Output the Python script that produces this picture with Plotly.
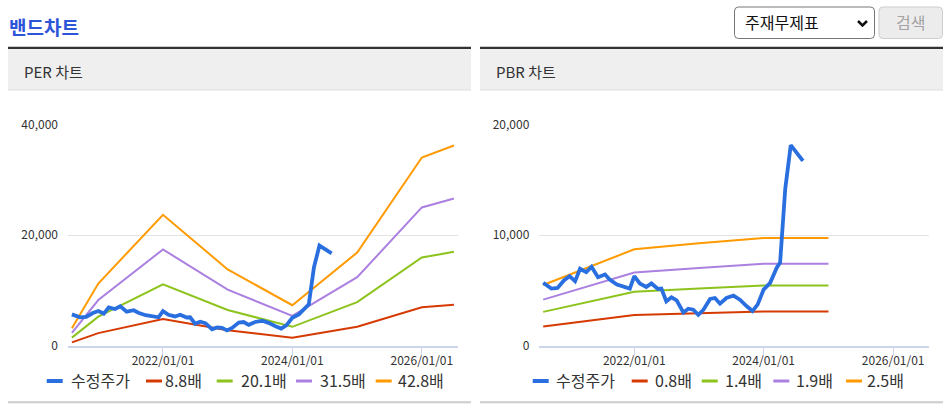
import plotly.graph_objects as go

W, H = 949, 411
FONT = "Noto Sans CJK KR"

# ---------------- data ----------------
price_dates = ["2020-08-05", "2020-09-20", "2020-10-25", "2020-12-01", "2021-01-01", "2021-02-01",
               "2021-03-01", "2021-04-05", "2021-05-05", "2021-06-10", "2021-07-20", "2021-08-15",
               "2021-09-25", "2021-11-01", "2021-12-07", "2022-01-01", "2022-02-01", "2022-03-10",
               "2022-04-08", "2022-05-15", "2022-06-03", "2022-07-01", "2022-07-30", "2022-08-28",
               "2022-10-05", "2022-11-02", "2022-11-30", "2022-12-28", "2023-01-26", "2023-03-05",
               "2023-04-01", "2023-04-30", "2023-06-05", "2023-07-15", "2023-08-20", "2023-09-28",
               "2023-10-30", "2023-11-28", "2024-01-01", "2024-02-07", "2024-03-15", "2024-04-03",
               "2024-05-02", "2024-06-02", "2024-08-10"]
price = [5700, 5180, 5240, 5940, 6300, 5850,
         6970, 6670, 7150, 6200, 6450, 6000,
         5550, 5390, 5180, 6300, 5640, 5330,
         5640, 5150, 5180, 4030, 4390, 4120,
         3030, 3360, 3270, 2820, 3270, 4240,
         4330, 3820, 4330, 4550, 4180, 3580,
         3150, 3730, 5090, 5700, 7060, 7520,
         14180, 18120, 16700]

per_dates = ["2020-08-05", "2021-01-01", "2022-01-01", "2023-01-01", "2024-01-01",
             "2025-01-01", "2026-01-01", "2026-07-01"]
per_names = ["8.8배", "20.1배", "31.5배", "42.8배"]
per_88 = [660, 2320, 4870, 2840, 1510, 3470, 6990, 7440]
per_201 = [1510, 5290, 11120, 6490, 3460, 7920, 15960, 16990]
per_315 = [2360, 8290, 17420, 10180, 5420, 12410, 25000, 26620]
per_428 = [3210, 11270, 23670, 13820, 7360, 16860, 34000, 36170]

pbr_dates = ["2020-08-05", "2022-01-01", "2023-01-01", "2024-01-01", "2025-01-01"]
pbr_names = ["0.8배", "1.4배", "1.9배", "2.5배"]
pbr_08 = [1760, 2790, 2960, 3120, 3120]
pbr_14 = [3080, 4890, 5180, 5460, 5460]
pbr_19 = [4180, 6630, 7030, 7410, 7410]
pbr_25 = [5500, 8725, 9270, 9750, 9750]

per_ticks = [0, 20000, 40000]
pbr_ticks = [0, 10000, 20000]
x_ticks = ["2022-01-01", "2024-01-01", "2026-01-01"]
x_range = ["2020-07-14", "2026-07-24"]

price_name = "수정주가"
price_color = "#2a6fdf"
band_colors = ["#d63a03", "#8cc31c", "#ab80e0", "#ff9a00"]


def px(x):
    return x / W


def py(y):
    return 1 - y / H


fig = go.Figure()

# PER chart
for name, vals, col in zip(per_names, [per_88, per_201, per_315, per_428], band_colors):
    fig.add_trace(go.Scatter(x=per_dates, y=vals, mode="lines", name=name,
                             line=dict(color=col, width=2), xaxis="x", yaxis="y",
                             showlegend=False))
fig.add_trace(go.Scatter(x=price_dates, y=price, mode="lines", name=price_name,
                         line=dict(color=price_color, width=3.8), xaxis="x", yaxis="y",
                         showlegend=False))
# PBR chart
for name, vals, col in zip(pbr_names, [pbr_08, pbr_14, pbr_19, pbr_25], band_colors):
    fig.add_trace(go.Scatter(x=pbr_dates, y=vals, mode="lines", name=name,
                             line=dict(color=col, width=2), xaxis="x2", yaxis="y2",
                             showlegend=False))
fig.add_trace(go.Scatter(x=price_dates, y=price, mode="lines", name=price_name,
                         line=dict(color=price_color, width=3.8), xaxis="x2", yaxis="y2",
                         showlegend=False))

ydom = [py(346), py(124.3)]
xaxis_common = dict(type="date", range=x_range, tickvals=x_ticks, tickformat="%Y/%m/%d",
                    ticks="outside", ticklen=7, tickcolor="#ccd6eb", tickwidth=1,
                    showline=True, linecolor="#ccd6eb", linewidth=2, showgrid=False,
                    zeroline=False, automargin=False, ticklabelstandoff=-4,
                    tickfont=dict(family=FONT, size=12, color="#333333"),
                    fixedrange=True)
yaxis_common = dict(showgrid=True, gridcolor="#e3e3e3", gridwidth=1.3, zeroline=False,
                    showline=False, tickformat=",", ticks="", ticklabelstandoff=9,
                    automargin=False,
                    tickfont=dict(family=FONT, size=12, color="#333333"), fixedrange=True)

fig.update_layout(
    width=W, height=H, autosize=False,
    margin=dict(l=0, r=0, t=0, b=0, pad=0),
    paper_bgcolor="white", plot_bgcolor="white",
    font=dict(family=FONT, color="#333333"),
    showlegend=False,
    xaxis=dict(domain=[px(68), px(458)], anchor="y", **xaxis_common),
    yaxis=dict(domain=ydom, anchor="x", range=[0, 40000], tickvals=per_ticks, **yaxis_common),
    xaxis2=dict(domain=[px(539.3), px(929.3)], anchor="y2", **xaxis_common),
    yaxis2=dict(domain=ydom, anchor="x2", range=[0, 20000], tickvals=pbr_ticks, **yaxis_common),
)

shapes = []
annotations = []

# page title
annotations.append(dict(x=px(7), y=py(26), xref="paper", yref="paper", xanchor="left",
                        yanchor="middle", showarrow=False, text="<b>밴드차트</b>",
                        font=dict(family=FONT, size=19, color="#2d55d9")))

# panels
for (x0, x1, title) in [(8, 471, "PER 차트"), (480, 943, "PBR 차트")]:
    shapes.append(dict(type="rect", xref="paper", yref="paper", x0=px(x0), x1=px(x1),
                       y0=py(90), y1=py(48.5), fillcolor="#efefef", line=dict(width=0),
                       layer="below"))
    shapes.append(dict(type="line", xref="paper", yref="paper", x0=px(x0), x1=px(x1),
                       y0=py(47.8), y1=py(47.8), line=dict(color="#333333", width=2.3)))
    shapes.append(dict(type="line", xref="paper", yref="paper", x0=px(x0), x1=px(x1),
                       y0=py(90), y1=py(90), line=dict(color="#dddddd", width=1)))
    shapes.append(dict(type="line", xref="paper", yref="paper", x0=px(x0), x1=px(x1),
                       y0=py(402.2), y1=py(402.2), line=dict(color="#cccccc", width=2)))
    annotations.append(dict(x=px(x0 + 14), y=py(71), xref="paper", yref="paper",
                            xanchor="left", yanchor="middle", showarrow=False, text=title,
                            font=dict(family=FONT, size=15, color="#333333")))

# dropdown + button
shapes.append(dict(type="path", xref="paper", yref="paper",
                   path=" ".join([
                       f"M{px(738.5)},{py(7)} L{px(870.5)},{py(7)}",
                       f"Q{px(874.5)},{py(7)} {px(874.5)},{py(11)}",
                       f"L{px(874.5)},{py(34.5)} Q{px(874.5)},{py(38.5)} {px(870.5)},{py(38.5)}",
                       f"L{px(738.5)},{py(38.5)} Q{px(734.5)},{py(38.5)} {px(734.5)},{py(34.5)}",
                       f"L{px(734.5)},{py(11)} Q{px(734.5)},{py(7)} {px(738.5)},{py(7)} Z"]),
                   fillcolor="white", line=dict(color="#767676", width=1)))
annotations.append(dict(x=px(743), y=py(22.5), xref="paper", yref="paper", xanchor="left",
                        yanchor="middle", showarrow=False, text="주재무제표",
                        font=dict(family=FONT, size=16, color="#111111")))
shapes.append(dict(type="path", xref="paper", yref="paper",
                   path=f"M{px(858)},{py(21)} L{px(862.5)},{py(25.5)} L{px(867)},{py(21)}",
                   line=dict(color="#111111", width=2.5)))
shapes.append(dict(type="path", xref="paper", yref="paper",
                   path=" ".join([
                       f"M{px(883)},{py(7)} L{px(938.5)},{py(7)}",
                       f"Q{px(942.5)},{py(7)} {px(942.5)},{py(11)}",
                       f"L{px(942.5)},{py(34.5)} Q{px(942.5)},{py(38.5)} {px(938.5)},{py(38.5)}",
                       f"L{px(883)},{py(38.5)} Q{px(879)},{py(38.5)} {px(879)},{py(34.5)}",
                       f"L{px(879)},{py(11)} Q{px(879)},{py(7)} {px(883)},{py(7)} Z"]),
                   fillcolor="#ececec", line=dict(color="#cdcdcd", width=1)))
annotations.append(dict(x=px(910.8), y=py(22.5), xref="paper", yref="paper", xanchor="center",
                        yanchor="middle", showarrow=False, text="검색",
                        font=dict(family=FONT, size=16, color="#a3a3a3")))

# legends (drawn as labels beside short line keys)
legend_y = 381
per_legend = [(price_name, price_color, 46.7, 70.5, 4)] + [
    (n, c, s, t, 3) for n, c, s, t in zip(per_names, band_colors,
                                          [146, 216.7, 296, 375.7], [165, 240.5, 320, 398])]
pbr_legend = [(price_name, price_color, 532.7, 556, 4)] + [
    (n, c, s, t, 3) for n, c, s, t in zip(pbr_names, band_colors,
                                          [631.7, 701.7, 773.3, 846], [655, 725, 796, 867.3])]
for name, col, sx, tx, lw in per_legend + pbr_legend:
    shapes.append(dict(type="line", xref="paper", yref="paper", x0=px(sx), x1=px(sx + 16),
                       y0=py(legend_y), y1=py(legend_y), line=dict(color=col, width=lw)))
    annotations.append(dict(x=px(tx - 1), y=py(legend_y - 1), xref="paper", yref="paper",
                            xanchor="left", yanchor="middle", showarrow=False, text=name,
                            borderpad=0,
                            font=dict(family=FONT, size=16, color="#333333")))

fig.update_layout(shapes=shapes, annotations=annotations)
fig.write_html(
    "out.html",
    config={"responsive": False, "displayModeBar": False},
    post_script="document.body.style.margin='0';document.body.style.padding='0';"
                "document.documentElement.style.overflow='hidden';",
)
